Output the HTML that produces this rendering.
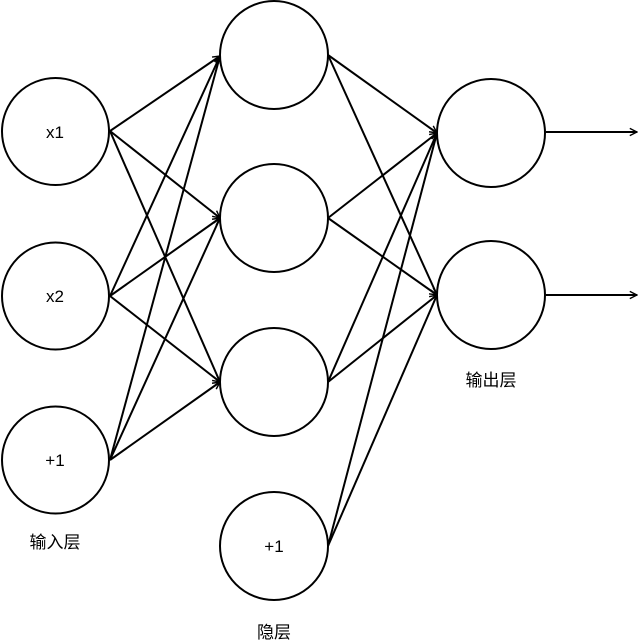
<!DOCTYPE html>
<html><head><meta charset="utf-8"><style>
html,body{margin:0;padding:0;background:#fff;}
svg{display:block;}
text{font-family:"Liberation Sans","Noto Sans CJK SC",sans-serif;font-size:17px;fill:#000;}
</style></head><body>
<svg width="640" height="644" viewBox="0 0 640 644" xmlns="http://www.w3.org/2000/svg">
<defs>
<marker id="a" viewBox="0 0 10 10" refX="9" refY="5" markerWidth="9" markerHeight="9" markerUnits="userSpaceOnUse" orient="auto">
<path d="M1,1 L9,5 L1,9" fill="none" stroke="#000" stroke-width="1.6"/>
</marker>
</defs>
<g stroke="#000" stroke-width="2" fill="none" marker-end="url(#a)">
<line x1="110" y1="131" x2="220" y2="56"/>
<line x1="110" y1="131" x2="220" y2="218"/>
<line x1="110" y1="131" x2="220" y2="382"/>
<line x1="110" y1="296" x2="220" y2="56"/>
<line x1="110" y1="296" x2="220" y2="218"/>
<line x1="110" y1="296" x2="220" y2="382"/>
<line x1="110" y1="460" x2="220" y2="56"/>
<line x1="110" y1="460" x2="220" y2="218"/>
<line x1="110" y1="460" x2="220" y2="382"/>
<line x1="328" y1="55" x2="437" y2="133"/>
<line x1="328" y1="55" x2="437" y2="295"/>
<line x1="328" y1="218" x2="437" y2="133"/>
<line x1="328" y1="218" x2="437" y2="295"/>
<line x1="328" y1="382" x2="437" y2="133"/>
<line x1="328" y1="382" x2="437" y2="295"/>
<line x1="328" y1="546" x2="437" y2="133"/>
<line x1="328" y1="546" x2="437" y2="295"/>
<line x1="546" y1="132" x2="637" y2="132"/>
<line x1="546" y1="295" x2="637" y2="295"/>
</g>
<g stroke="#000" stroke-width="2" fill="#fff">
<circle cx="55.5" cy="131.5" r="53.5"/>
<circle cx="55.5" cy="296" r="53.5"/>
<circle cx="55.5" cy="460" r="53.5"/>
<circle cx="274" cy="55" r="54"/>
<circle cx="274" cy="218" r="54"/>
<circle cx="274" cy="382" r="54"/>
<circle cx="274" cy="546" r="54"/>
<circle cx="491" cy="133" r="54"/>
<circle cx="491" cy="295" r="54"/>
</g>
<g text-anchor="middle">
<text x="55" y="138">x1</text>
<text x="55" y="302">x2</text>
<text x="55" y="466">+1</text>
<text x="274" y="552">+1</text>
<text x="55" y="548">输入层</text>
<text x="274" y="638">隐层</text>
<text x="491" y="386">输出层</text>
</g>
</svg>
</body></html>
